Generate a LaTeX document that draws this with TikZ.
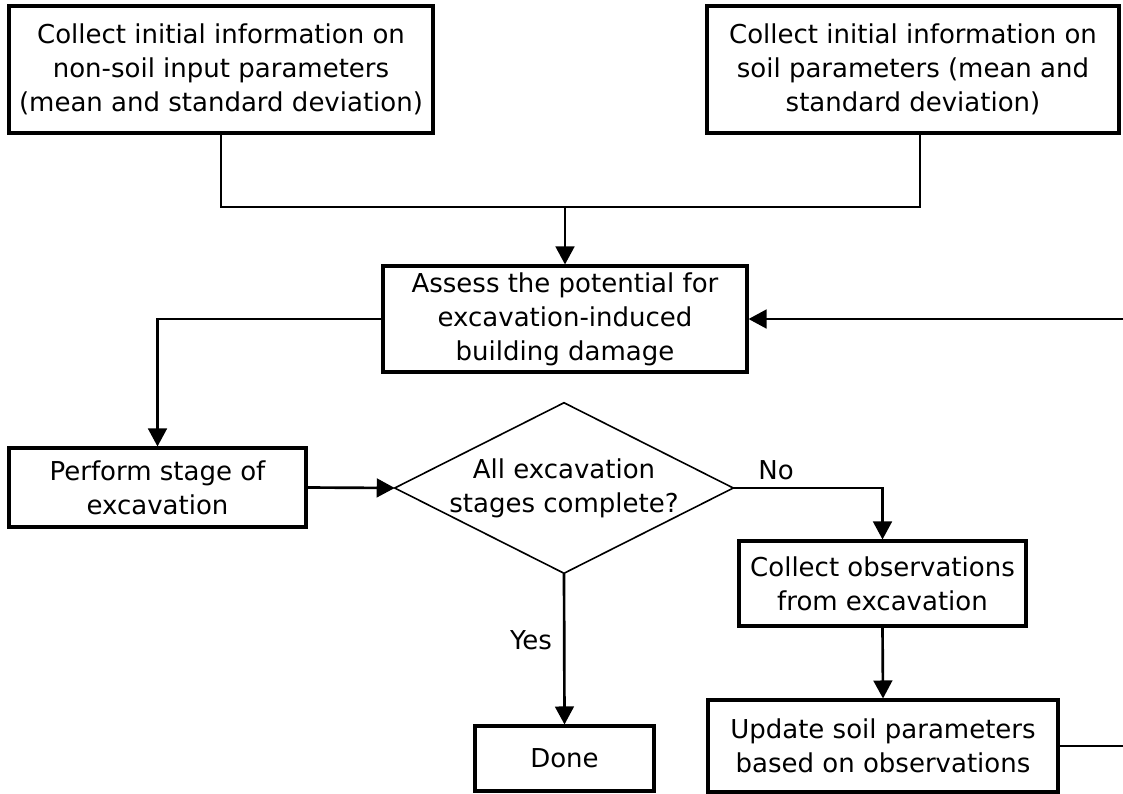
\documentclass[tikz,border=0pt]{standalone}
\usepackage{fontspec}
\setmainfont{DejaVu Sans}
\usetikzlibrary{arrows.meta}

\tikzset{
  txt/.style={font=\fontsize{19.5}{25.5}\selectfont, align=center},
  stepbox/.style={txt, draw, line width=2.3pt, rectangle, inner sep=0pt},
  decisionarea/.style={txt, rectangle, inner sep=0pt},
  decisionline/.style={line width=1.2pt, line join=miter},
  flow/.style={line width=2pt},
  arr/.style={flow, -{Triangle[length=13.5pt,width=14pt]}},
  lbl/.style={txt, inner sep=0pt}
}

\begin{document}
\begin{tikzpicture}[x=0.75pt, y=-0.75pt]
  \path[use as bounding box] (0,0) rectangle (1123,793);

  % process boxes
  \node[stepbox, minimum width=318pt, minimum height=95.25pt] (b1) at (221,69.5)
    {Collect initial information on\\non-soil input parameters\\(mean and standard deviation)};
  \node[stepbox, minimum width=309pt, minimum height=95.25pt] (b2) at (913,69.5)
    {Collect initial information on\\soil parameters (mean and\\standard deviation)};
  \node[stepbox, minimum width=273pt, minimum height=79.5pt] (b3) at (565,319)
    {Assess the potential for\\excavation-induced\\building damage};
  \node[stepbox, minimum width=222.75pt, minimum height=59.25pt] (b4) at (157.5,487.5)
    {Perform stage of\\excavation};
  \node[stepbox, minimum width=215.25pt, minimum height=63.75pt] (b5) at (882.5,583.5)
    {Collect observations\\from excavation};
  \node[stepbox, minimum width=262.5pt, minimum height=69pt] (b6) at (883,746)
    {Update soil parameters\\based on observations};
  \node[stepbox, minimum width=134.25pt, minimum height=48.75pt] (done) at (564.5,758.5)
    {Done};

  % decision: the diamond runs through the midpoints of its text area
  \node[decisionarea, minimum width=253.5pt, minimum height=127.5pt] (d) at (564,488)
    {All excavation\\stages complete?};
  \draw[decisionline] (d.north) -- (d.east) -- (d.south) -- (d.west) -- cycle;

  % branch labels
  \node[lbl] (no) at (776,470) {No};
  \node[lbl] (yes) at (531,640) {Yes};

  % merge of the two inputs
  \coordinate (j) at (565,207);
  \draw[flow] (b1.south) |- (j);
  \draw[flow] ([xshift=5.25pt]b2.south) |- (j);
  \draw[arr] (j) -- (b3.north);

  % main sequence
  \draw[arr] (b3.west) -| (b4.north);
  \draw[arr] (b4.east) -- (d.west);
  \draw[arr] (d.east) -| (b5.north);
  \draw[arr] (b5.south) -- (b6.north);
  \draw[arr] (d.south) -- (done.north);

  % feedback loop, running beyond the right margin
  \begin{scope}
    \clip (0,0) rectangle (1123,793);
    \draw[arr] (b6.east) -- ++(80,0) |- (b3.east);
  \end{scope}
\end{tikzpicture}
\end{document}
